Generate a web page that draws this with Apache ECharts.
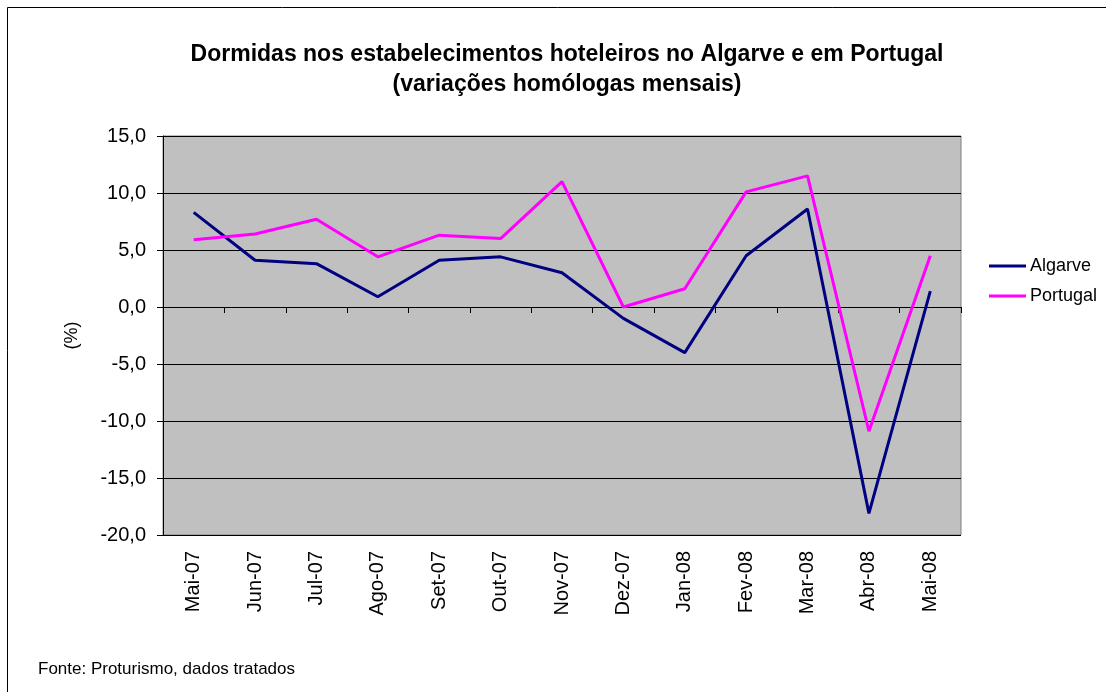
<!DOCTYPE html>
<html><head><meta charset="utf-8">
<script src="https://cdn.jsdelivr.net/npm/echarts@6/dist/echarts.min.js"></script>
<style>html,body{margin:0;padding:0;background:#fff}#c{width:1106px;height:692px}</style>
</head><body><div id="c"></div>
<script>
const categories = ['Mai-07','Jun-07','Jul-07','Ago-07','Set-07','Out-07','Nov-07','Dez-07','Jan-08','Fev-08','Mar-08','Abr-08','Mai-08'];
const algarve  = [8.3, 4.1, 3.8, 0.9, 4.1, 4.4, 3.0, -1.0, -4.0, 4.5, 8.6, -18.1, 1.4];
const portugal = [5.9, 6.4, 7.7, 4.4, 6.3, 6.0, 11.0, 0.0, 1.6, 10.1, 11.5, -10.9, 4.5];
const yMin = -20, yMax = 15, yStep = 5;

const chart = echarts.init(document.getElementById('c'), null, {renderer: 'canvas'});
const F = '"Liberation Sans", Arial, sans-serif';
chart.setOption({
  animation: false,
  textStyle: {fontFamily: F},
  title: {
    text: 'Dormidas nos estabelecimentos hoteleiros no Algarve e em Portugal\n(variações homólogas mensais)',
    left: 562, textAlign: 'center', top: 35,
    textStyle: {fontFamily: F, fontSize: 23, fontWeight: 'bold', color: '#000', lineHeight: 30}
  },
  graphic: [
    {type: 'rect', shape: {x: 7.5, y: 7.5, width: 1200, height: 800}, style: {fill: 'none', stroke: '#000', lineWidth: 1}, z: -10},
    {type: 'text', left: 38, top: 661, style: {text: 'Fonte: Proturismo, dados tratados', font: '17px ' + F, fill: '#000'}}
  ],
  legend: {
    orient: 'vertical', left: 984, top: 252, itemGap: 12,
    icon: 'rect', itemWidth: 37, itemHeight: 3,
    textStyle: {fontFamily: F, fontSize: 18, lineHeight: 18, color: '#000', padding: [0, 0, 0, -1]},
    data: ['Algarve', 'Portugal']
  },
  grid: {left: 163, top: 136, width: 798, height: 399, show: true, backgroundColor: '#c0c0c0', borderColor: '#808080', borderWidth: 1},
  xAxis: [
    {type: 'category', data: categories, boundaryGap: true, position: 'bottom',
     axisLine: {show: false, onZero: false}, axisTick: {show: false},
     axisLabel: {rotate: 90, fontSize: 20, color: '#000', margin: 16, fontFamily: F}},
    {type: 'category', data: categories, boundaryGap: true, position: 'bottom',
     axisLine: {show: true, onZero: true, lineStyle: {color: '#000', width: 1}},
     axisTick: {show: true, inside: false, length: 6, lineStyle: {color: '#000'}},
     axisLabel: {show: false}}
  ],
  yAxis: {
    type: 'value', min: yMin, max: yMax, interval: yStep,
    name: '(%)', nameLocation: 'middle', nameGap: 82, nameRotate: 90,
    nameTextStyle: {fontSize: 18, color: '#000', fontFamily: F},
    axisLine: {show: true, onZero: false, lineStyle: {color: '#000'}},
    axisTick: {show: true, length: 6, lineStyle: {color: '#000'}},
    axisLabel: {fontSize: 20, color: '#000', margin: 17, fontFamily: F, formatter: v => v.toFixed(1).replace('.', ',')},
    splitLine: {show: true, lineStyle: {color: '#000', width: 1}}
  },
  series: [
    {name: 'Algarve', type: 'line', data: algarve, xAxisIndex: 0, symbol: 'none', color: '#000080', lineStyle: {width: 3, color: '#000080'}},
    {name: 'Portugal', type: 'line', data: portugal, xAxisIndex: 0, symbol: 'none', color: '#ff00ff', lineStyle: {width: 3, color: '#ff00ff'}}
  ]
});
</script></body></html>
